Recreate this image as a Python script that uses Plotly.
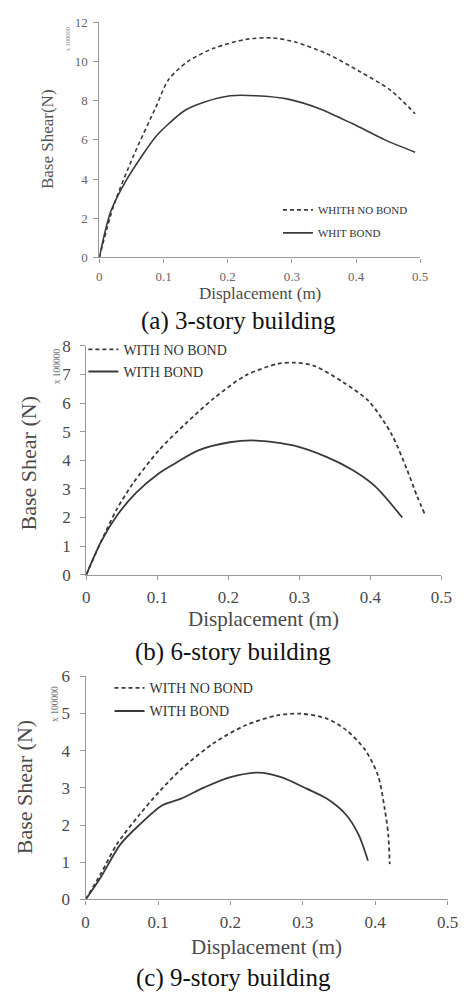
import plotly.graph_objects as go

W, H = 469, 1002

# ---------------- data ----------------
# (a) 3-story building
a_nobond_x = [0, 0.0226, 0.053, 0.088, 0.108, 0.138, 0.178, 0.229, 0.269, 0.304, 0.354, 0.405, 0.455, 0.492]
a_nobond_y = [0, 2.67, 5.17, 7.67, 9.08, 10.0, 10.67, 11.13, 11.2, 11.0, 10.4, 9.5, 8.5, 7.33]
a_bond_x = [0, 0.0176, 0.043, 0.088, 0.103, 0.133, 0.163, 0.204, 0.244, 0.294, 0.344, 0.394, 0.445, 0.492]
a_bond_y = [0, 2.33, 4.0, 6.17, 6.67, 7.5, 7.92, 8.25, 8.25, 8.08, 7.58, 6.83, 6.0, 5.37]

# (b) 6-story building
b_nobond_x = [0, 0.0205, 0.043, 0.066, 0.102, 0.139, 0.18, 0.225, 0.27, 0.293, 0.32, 0.361, 0.398, 0.43, 0.452, 0.466, 0.477]
b_nobond_y = [0, 1.14, 2.29, 3.2, 4.34, 5.26, 6.17, 6.97, 7.37, 7.41, 7.31, 6.74, 6.06, 4.91, 3.66, 2.74, 2.11]
b_bond_x = [0, 0.0205, 0.043, 0.07, 0.102, 0.125, 0.157, 0.202, 0.239, 0.293, 0.339, 0.375, 0.407, 0.445]
b_bond_y = [0, 1.14, 2.06, 2.86, 3.54, 3.89, 4.34, 4.63, 4.69, 4.51, 4.11, 3.66, 3.09, 2.0]

# (c) 9-story building
c_nobond_x = [0, 0.021, 0.043, 0.074, 0.101, 0.132, 0.177, 0.221, 0.266, 0.297, 0.333, 0.36, 0.386, 0.404, 0.413, 0.418, 0.42]
c_nobond_y = [0, 0.69, 1.48, 2.27, 2.88, 3.5, 4.2, 4.68, 4.95, 4.99, 4.86, 4.55, 4.02, 3.32, 2.44, 1.74, 0.95]
c_bond_x = [0, 0.021, 0.048, 0.074, 0.106, 0.132, 0.164, 0.199, 0.239, 0.271, 0.306, 0.333, 0.36, 0.377, 0.39]
c_bond_y = [0, 0.6, 1.48, 2.0, 2.53, 2.71, 3.01, 3.28, 3.41, 3.28, 2.97, 2.71, 2.27, 1.74, 1.04]

x_ticks = [0, 0.1, 0.2, 0.3, 0.4, 0.5]
x_ticklabels = ["0", "0.1", "0.2", "0.3", "0.4", "0.5"]
a_yticks = [0, 2, 4, 6, 8, 10, 12]
b_yticks = [0, 1, 2, 3, 4, 5, 6, 7, 8]
c_yticks = [0, 1, 2, 3, 4, 5, 6]

a_names = ["WHITH NO BOND", "WHIT BOND"]
b_names = ["WITH NO BOND", "WITH BOND"]
c_names = ["WITH NO BOND", "WITH BOND"]
captions = ["(a) 3-story building", "(b) 6-story building", "(c) 9-story building"]
x_title = "Displacement (m)"
y_titles = ["Base Shear(N)", "Base Shear (N)", "Base Shear (N)"]
multiplier = "x 100000"

# ---------------- styling helpers ----------------
SERIF = "Liberation Serif"
LINE = "#3a3a3a"

def px(x):
    return x / W

def py(y):
    return 1 - y / H

fig = go.Figure()

panels = [
    dict(nx=a_nobond_x, ny=a_nobond_y, bx=a_bond_x, by=a_bond_y, names=a_names,
         xd=[98.5, 430], yd=[253.3, 13.5], yr=[0, 12], yt=a_yticks, lw=1.6, dash="4px,3px",
         tickfs=13, tickcol="#666", legfs=11, leg=(283, 190), gap=4, xstand=3, ystand=3),
    dict(nx=b_nobond_x, ny=b_nobond_y, bx=b_bond_x, by=b_bond_y, names=b_names,
         xd=[85, 451.7], yd=[576.7, 343.3], yr=[0, 8], yt=b_yticks, lw=1.8, dash="4px,3px",
         tickfs=17, tickcol="#4a4a4a", legfs=14, leg=(82, 331), gap=1, xstand=3, ystand=6),
    dict(nx=c_nobond_x, ny=c_nobond_y, bx=c_bond_x, by=c_bond_y, names=c_names,
         xd=[84.3, 458.3], yd=[907.7, 680], yr=[0, 6], yt=c_yticks, lw=1.8, dash="4px,3px",
         tickfs=17, tickcol="#4a4a4a", legfs=14, leg=(109, 676), gap=2, xstand=3, ystand=6),
]

layout = dict(
    width=W, height=H,
    margin=dict(l=0, r=0, t=0, b=0),
    paper_bgcolor="white", plot_bgcolor="white",
    showlegend=True,
    font=dict(family=SERIF, color="#4a4a4a"),
)

for i, p in enumerate(panels):
    n = "" if i == 0 else str(i + 1)
    xa, ya = "x" + n, "y" + n
    legname = "legend" if i == 0 else "legend" + str(i + 1)
    fig.add_trace(go.Scatter(x=p["nx"], y=p["ny"], mode="lines", name=p["names"][0],
                             xaxis=xa, yaxis=ya, legend=legname, legendgroup=f"g{i}a",
                             line=dict(color=LINE, width=p["lw"], dash=p["dash"],
                                       shape="spline", smoothing=0.8)))
    fig.add_trace(go.Scatter(x=p["bx"], y=p["by"], mode="lines", name=p["names"][1],
                             xaxis=xa, yaxis=ya, legend=legname, legendgroup=f"g{i}b",
                             line=dict(color=LINE, width=p["lw"],
                                       shape="spline", smoothing=0.8)))
    layout["xaxis" + n] = dict(
        domain=[px(p["xd"][0]), px(p["xd"][1])], anchor=ya, range=[0, 0.5],
        tickvals=x_ticks, ticktext=x_ticklabels, ticks="outside", ticklen=4,
        tickcolor="#999", showline=True, linecolor="#999", linewidth=1.2,
        showgrid=False, zeroline=False, ticklabelstandoff=p["xstand"],
        tickfont=dict(family=SERIF, size=p["tickfs"], color=p["tickcol"]),
    )
    layout["yaxis" + n] = dict(
        domain=[py(p["yd"][0]), py(p["yd"][1])], anchor=xa, range=p["yr"],
        tickvals=p["yt"], ticks="outside", ticklen=5,
        tickcolor="#999", showline=True, linecolor="#999", linewidth=1.2,
        showgrid=False, zeroline=False, ticklabelstandoff=p["ystand"],
        tickfont=dict(family=SERIF, size=p["tickfs"], color=p["tickcol"]),
    )
    layout[legname] = dict(
        x=px(p["leg"][0]), y=py(p["leg"][1]), xanchor="left", yanchor="top",
        bgcolor="rgba(0,0,0,0)", borderwidth=0, tracegroupgap=p["gap"],
        font=dict(family=SERIF, size=p["legfs"], color="#333"),
    )

ann = []
def add_text(text, x, y, size, color="#4a4a4a", angle=0):
    ann.append(dict(text=text, x=px(x), y=py(y), xref="paper", yref="paper",
                    xanchor="center", yanchor="middle", showarrow=False,
                    textangle=angle, font=dict(family=SERIF, size=size, color=color)))

# (a)
add_text(y_titles[0], 45, 133, 17, "#555", -90)
add_text(multiplier, 65, 31, 6.5, "#777", -90)
add_text(x_title, 264, 290, 17, "#4a4a4a")
add_text(captions[0], 242, 318, 25, "#111")
# (b)
add_text(y_titles[1], 25, 463, 22, "#4a4a4a", -90)
add_text(multiplier, 55, 364, 9.5, "#777", -90)
add_text(x_title, 268, 622, 21, "#4a4a4a")
add_text(captions[1], 237, 655, 25, "#111")
# (c)
add_text(y_titles[2], 22, 793, 22, "#4a4a4a", -90)
add_text(multiplier, 52, 708, 9.5, "#777", -90)
add_text(x_title, 271, 956, 21, "#4a4a4a")
add_text(captions[2], 237, 988, 25, "#111")

layout["annotations"] = ann
fig.update_layout(**layout)
fig.write_html("out.html")
